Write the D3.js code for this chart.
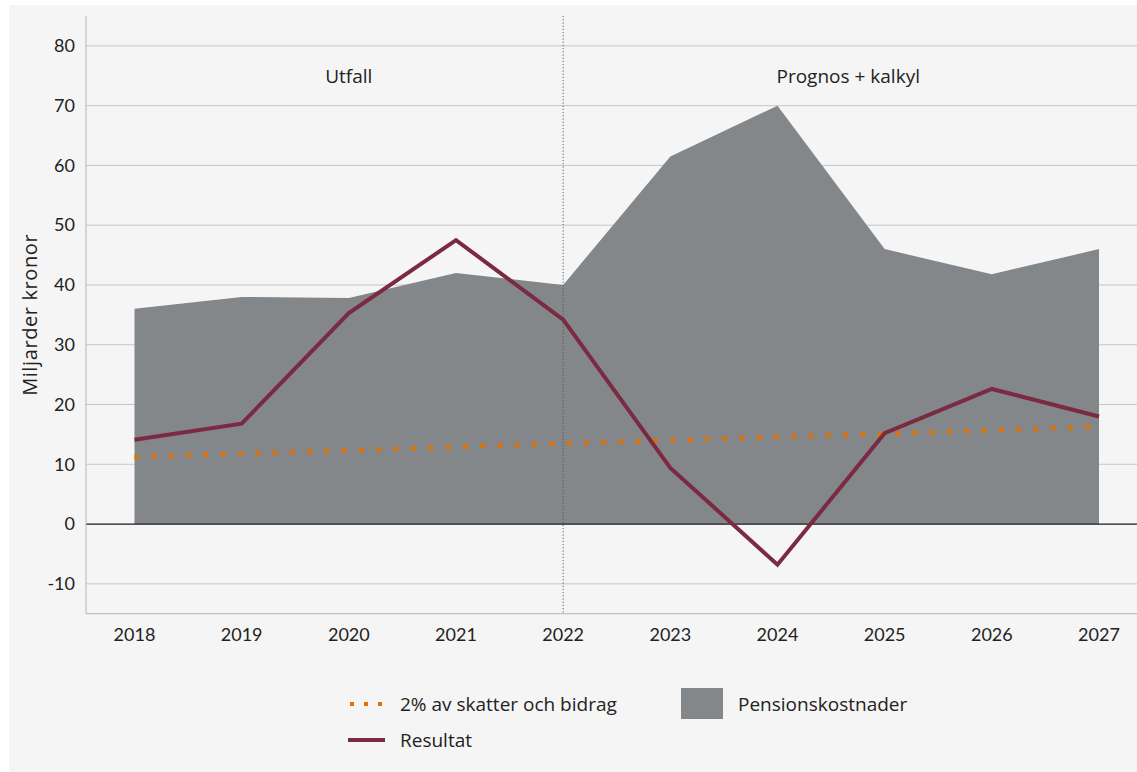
<!DOCTYPE html>
<html>
<head>
<meta charset="utf-8">
<script src="https://cdn.jsdelivr.net/npm/d3@7"></script>
<style>
  body { margin: 0; background: #ffffff; }
  text { font-family: Lato, "Open Sans", sans-serif; fill: #222; }
  text.label { font-family: "Open Sans", Lato, sans-serif; }
</style>
</head>
<body>
<div id="chart"></div>
<script>
"use strict";

// data
const years = [2018, 2019, 2020, 2021, 2022, 2023, 2024, 2025, 2026, 2027];
const pension = [36, 38, 37.8, 42, 40, 61.5, 70, 46, 41.8, 46];
const resultat = [14.1, 16.8, 35.3, 47.5, 34.2, 9.4, -6.8, 15.2, 22.6, 18];
const tvaProcent = [11.2, 11.8, 12.3, 12.9, 13.5, 14.0, 14.6, 15.1, 15.7, 16.3];
const yTicks = [-10, 0, 10, 20, 30, 40, 50, 60, 70, 80];

const width = 1137, height = 772;

const svg = d3.select("#chart")
  .append("svg")
  .attr("width", width)
  .attr("height", height);

// light panel behind everything
svg.append("rect")
  .attr("x", 9).attr("y", 5)
  .attr("width", width - 9).attr("height", height - 5)
  .attr("fill", "#f5f5f5");

const x = d3.scaleLinear().domain([2018, 2027]).range([134.5, 1099]);
const y = d3.scaleLinear().domain([-15, 85]).range([613.7, 16]);
const left = 86, right = width;

// gridlines
svg.append("g")
  .selectAll("line")
  .data(yTicks.filter(d => d !== 0))
  .enter()
  .append("line")
  .attr("x1", left).attr("x2", right)
  .attr("y1", d => y(d)).attr("y2", d => y(d))
  .attr("stroke", "#c6c6c6")
  .attr("stroke-width", 1);

// pension costs area
const area = d3.area()
  .x((d, i) => x(years[i]))
  .y0(y(0))
  .y1(d => y(d));

svg.append("path")
  .datum(pension)
  .attr("d", area)
  .attr("fill", "#838789");

// zero line
svg.append("line")
  .attr("x1", left).attr("x2", right)
  .attr("y1", y(0)).attr("y2", y(0))
  .attr("stroke", "#1a1a1a")
  .attr("stroke-width", 1.2);

// axes lines
svg.append("line")
  .attr("x1", left).attr("x2", left)
  .attr("y1", y(85)).attr("y2", y(-15))
  .attr("stroke", "#b5b5b5");
svg.append("line")
  .attr("x1", left).attr("x2", right)
  .attr("y1", y(-15)).attr("y2", y(-15))
  .attr("stroke", "#b5b5b5");

// divider between outcome and forecast
svg.append("line")
  .attr("x1", x(2022)).attr("x2", x(2022))
  .attr("y1", y(85)).attr("y2", y(-15))
  .attr("stroke", "#555")
  .attr("stroke-width", 1)
  .attr("stroke-dasharray", "1.2,2");

const line = d3.line()
  .x((d, i) => x(years[i]))
  .y(d => y(d));

// 2% of taxes and contributions
svg.append("path")
  .datum(tvaProcent)
  .attr("d", line)
  .attr("fill", "none")
  .attr("stroke", "#e07000")
  .attr("stroke-width", 4.5)
  .attr("stroke-dasharray", "4.5,12.8");

// result line
svg.append("path")
  .datum(resultat)
  .attr("d", line)
  .attr("fill", "none")
  .attr("stroke", "#7b2a42")
  .attr("stroke-width", 4)
  .attr("stroke-linejoin", "miter");

// y tick labels
svg.append("g")
  .selectAll("text")
  .data(yTicks)
  .enter()
  .append("text")
  .attr("x", 75)
  .attr("y", d => y(d))
  .attr("dy", "0.35em")
  .attr("text-anchor", "end")
  .style("font-size", "18px")
  .text(d => d);

// x tick labels
svg.append("g")
  .selectAll("text")
  .data(years)
  .enter()
  .append("text")
  .attr("x", d => x(d))
  .attr("y", 641)
  .attr("text-anchor", "middle")
  .style("font-size", "18px")
  .text(d => d);

// y axis title
svg.append("text")
  .attr("class", "label")
  .attr("transform", `translate(37,${(y(85) + y(-15)) / 2}) rotate(-90)`)
  .attr("text-anchor", "middle")
  .style("font-size", "20px")
  .style("letter-spacing", "0.6px")
  .text("Miljarder kronor");

// period labels
svg.append("text")
  .attr("class", "label")
  .attr("x", x(2020)).attr("y", 83)
  .attr("text-anchor", "middle")
  .style("font-size", "19px")
  .text("Utfall");
svg.append("text")
  .attr("class", "label")
  .attr("x", x(2024.66)).attr("y", 83)
  .attr("text-anchor", "middle")
  .style("font-size", "19px")
  .text("Prognos + kalkyl");

// legend
const legend = svg.append("g");
legend.append("line")
  .attr("x1", 350).attr("x2", 385)
  .attr("y1", 704).attr("y2", 704)
  .attr("stroke", "#e07000")
  .attr("stroke-width", 4)
  .attr("stroke-dasharray", "4,10");
legend.append("text")
  .attr("class", "label")
  .attr("x", 400).attr("y", 711)
  .style("font-size", "19px")
  .text("2% av skatter och bidrag");

legend.append("line")
  .attr("x1", 348).attr("x2", 385)
  .attr("y1", 740).attr("y2", 740)
  .attr("stroke", "#7b2a42")
  .attr("stroke-width", 4);
legend.append("text")
  .attr("class", "label")
  .attr("x", 400).attr("y", 747)
  .style("font-size", "19px")
  .text("Resultat");

legend.append("rect")
  .attr("x", 681).attr("y", 688)
  .attr("width", 42).attr("height", 31)
  .attr("fill", "#838789");
legend.append("text")
  .attr("class", "label")
  .attr("x", 738).attr("y", 711)
  .style("font-size", "19px")
  .text("Pensionskostnader");
</script>
</body>
</html>
